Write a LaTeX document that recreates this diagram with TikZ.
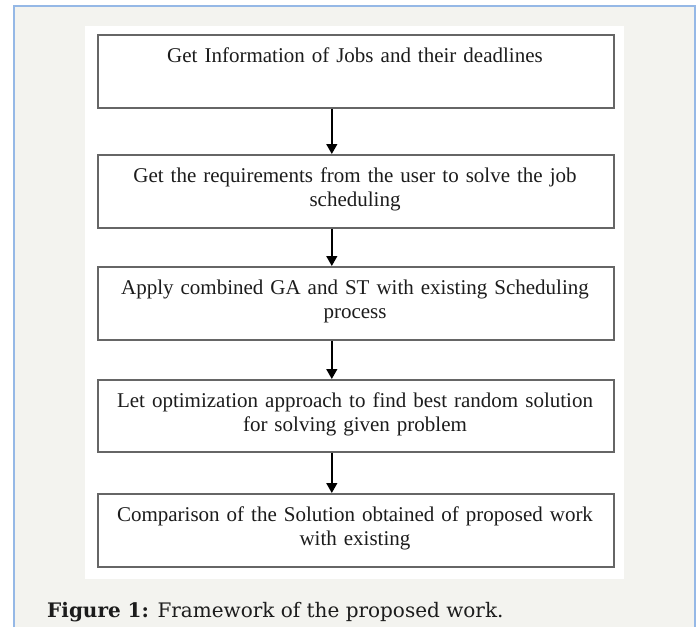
\documentclass[tikz,border=0pt]{standalone}
\usepackage{fontspec}
\setmainfont{Liberation Serif}
\newfontfamily\capfont{DejaVu Serif}
\usetikzlibrary{arrows.meta}
\definecolor{pagebg}{HTML}{F3F3EF}
\definecolor{frameblue}{HTML}{95B8E6}
\definecolor{boxline}{HTML}{666666}
\definecolor{boxshade}{HTML}{B4B4B4}
\definecolor{inkc}{HTML}{1C1C1C}
\begin{document}
\begin{tikzpicture}[x=1pt,y=-1pt,
  stepbox/.style={draw=boxline, line width=1.6pt, minimum width=516pt,
    minimum height=73pt, inner sep=0pt, anchor=north west},
  steptext/.style={anchor=base, text width=516pt, align=center, inner sep=0pt,
    font=\fontsize{21}{24}\selectfont, text=inkc},
  flow/.style={line width=1.4pt, draw=black, -{Triangle[width=11pt,length=10pt]}}]
  \useasboundingbox (0,0) rectangle (699,627);
  % page, frame and white figure panel
  \fill[white] (0,0) rectangle (699,627);
  \fill[pagebg] (14,6) rectangle (695,627);
  \draw[frameblue, line width=1.2pt] (14,627) -- (14,6) -- (695,6) -- (695,627);
  \fill[white] (85,26) rectangle (624,579);
  % soft shadow under the step boxes
  \foreach \ty/\th in {34/73,154/73,266/73,379/72,493/73}
    \draw[boxshade, line width=1.6pt] (98.5,\ty+1.5) rectangle (614.5,\ty+\th+1.5);
  % process steps
  \node[stepbox] (b1) at (97,34) {};
  \node[stepbox] (b2) at (97,154) {};
  \node[stepbox] (b3) at (97,266) {};
  \node[stepbox, minimum height=72pt] (b4) at (97,379) {};
  \node[stepbox] (b5) at (97,493) {};
  \node[steptext] (t1) at (355,62) {Get Information of Jobs and their deadlines};
  \node[steptext] (t2) at (355,182) {Get the requirements from the user to solve the job\\scheduling};
  \node[steptext] (t3) at (355,294) {Apply combined GA and ST with existing Scheduling\\process};
  \node[steptext] (t4) at (355,407) {Let optimization approach to find best random solution\\for solving given problem};
  \node[steptext] (t5) at (355,521) {Comparison of the Solution obtained of proposed work\\with existing};
  % connectors
  \draw[flow] ([xshift=-24pt]b1.south) -- ([xshift=-24pt]b2.north);
  \draw[flow] ([xshift=-24pt]b2.south) -- ([xshift=-24pt]b3.north);
  \draw[flow] ([xshift=-24pt]b3.south) -- ([xshift=-24pt]b4.north);
  \draw[flow] ([xshift=-24pt]b4.south) -- ([xshift=-24pt]b5.north);
  % caption
  \node[anchor=base west, inner sep=0pt, font=\capfont\fontsize{20}{24}\selectfont, text=inkc]
    (cap) at (47,617) {\textbf{Figure 1:} Framework of the proposed work.};
\end{tikzpicture}
\end{document}
